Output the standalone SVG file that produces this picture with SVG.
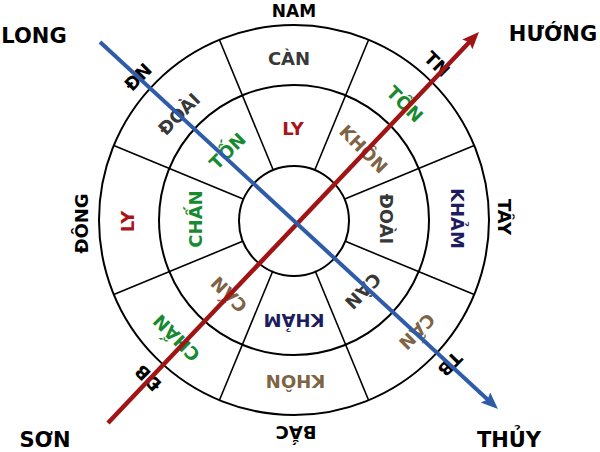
<svg xmlns="http://www.w3.org/2000/svg" width="600" height="452" viewBox="0 0 600 452">
<style>
.t{font-family:"DejaVu Sans","Liberation Sans",sans-serif;font-weight:bold;font-size:18px;text-anchor:middle}
.c{font-size:21px}
.k{fill:#000}
.gy{fill:#383838}
.rd{fill:#A8141A}
.gn{fill:#178A30}
.br{fill:#7E6444}
.nv{fill:#1C1C5E}
.ring{fill:none;stroke:#000;stroke-width:2}
.sp{stroke:#000;stroke-width:1.6}
</style>
<defs>
<marker id="ab" markerUnits="userSpaceOnUse" markerWidth="18" markerHeight="16" refX="7" refY="7" orient="auto">
<path d="M0,0 L17,7 L0,14 L3,7 z" fill="#2F5CA8"/>
</marker>
<marker id="ar" markerUnits="userSpaceOnUse" markerWidth="18" markerHeight="16" refX="7" refY="7" orient="auto">
<path d="M0,0 L17,7 L0,14 L3,7 z" fill="#A01416"/>
</marker>
</defs>
<rect width="600" height="452" fill="#fff"/>
<g id="compass">
<circle class="ring" cx="294" cy="220" r="195"/>
<circle class="ring" cx="294" cy="220" r="135"/>
<circle class="ring" cx="294" cy="221" r="55"/>
<g id="spokes">
<line class="sp" x1="272.9" y1="169.2" x2="219.4" y2="39.8"/>
<line class="sp" x1="315.1" y1="169.2" x2="368.6" y2="39.8"/>
<line class="sp" x1="344.8" y1="198.9" x2="474.2" y2="145.4"/>
<line class="sp" x1="344.8" y1="241.1" x2="474.2" y2="294.6"/>
<line class="sp" x1="315.1" y1="270.8" x2="368.6" y2="400.2"/>
<line class="sp" x1="272.9" y1="270.8" x2="219.4" y2="400.2"/>
<line class="sp" x1="243.2" y1="241.1" x2="113.8" y2="294.6"/>
<line class="sp" x1="243.2" y1="198.9" x2="113.8" y2="145.4"/>
</g>
</g>
<g id="outer-ring">
<text class="t gy" transform="translate(289,58.5)" y="6.5">CÀN</text>
<text class="t gn" transform="translate(405,104) rotate(45)" y="6.5">TỐN</text>
<text class="t nv" transform="translate(457,218.5) rotate(90)" y="6.5">KHẢM</text>
<text class="t br" transform="translate(417,331.5) rotate(135)" y="6.5">CẤN</text>
<text class="t br" transform="translate(295.5,381.5) rotate(180)" y="6.5">KHÔN</text>
<text class="t gn" transform="translate(176.5,338) rotate(225)" y="6.5">CHẤN</text>
<text class="t rd" transform="translate(127,221.5) rotate(270)" y="6.5">LY</text>
<text class="t gy" transform="translate(179,114) rotate(315)" y="6.5">ĐOÀI</text>
</g>
<g id="middle-ring">
<text class="t rd" transform="translate(293,128.5)" y="6.5">LY</text>
<text class="t br" transform="translate(363.5,149) rotate(45)" y="6.5">KHÔN</text>
<text class="t gy" transform="translate(386,219) rotate(90)" y="6.5">ĐOÀI</text>
<text class="t gy" transform="translate(363,291) rotate(135)" y="6.5">CÀN</text>
<text class="t nv" transform="translate(294,320) rotate(180)" y="6.5">KHẢM</text>
<text class="t br" transform="translate(229,294.5) rotate(225)" y="6.5">CẤN</text>
<text class="t gn" transform="translate(195.5,219) rotate(270)" y="6.5">CHẤN</text>
<text class="t gn" transform="translate(227.5,151) rotate(315)" y="6.5">TỐN</text>
</g>
<g id="directions">
<text class="t k" x="294" y="17" style="font-size:17px">NAM</text>
<text class="t k" transform="translate(437,64) rotate(45)" y="6.5">TN</text>
<text class="t k" transform="translate(504,217) rotate(90)" y="6.5">TÂY</text>
<text class="t k" transform="translate(450,364) rotate(135)" y="6.5">TB</text>
<text class="t k" transform="translate(296,432.5) rotate(180)" y="6.5">BẮC</text>
<text class="t k" transform="translate(148,378) rotate(225)" y="6.5">ĐB</text>
<text class="t k" transform="translate(81.5,223.5) rotate(270)" y="6.5">ĐÔNG</text>
<text class="t k" transform="translate(138,77) rotate(315)" y="6.5">ĐN</text>
</g>
<g id="corners">
<text class="t c k" x="34" y="43">LONG</text>
<text class="t c k" x="553" y="41">HƯỚNG</text>
<text class="t c k" x="45" y="447">SƠN</text>
<text class="t c k" x="509" y="447">THỦY</text>
</g>
<g id="connectors">
<line x1="108" y1="423" x2="472.1" y2="39.3" stroke="#A01416" stroke-width="4.5" marker-end="url(#ar)"/>
<line x1="100" y1="42" x2="490.6" y2="402.2" stroke="#2F5CA8" stroke-width="4" marker-end="url(#ab)"/>
</g>
</svg>
